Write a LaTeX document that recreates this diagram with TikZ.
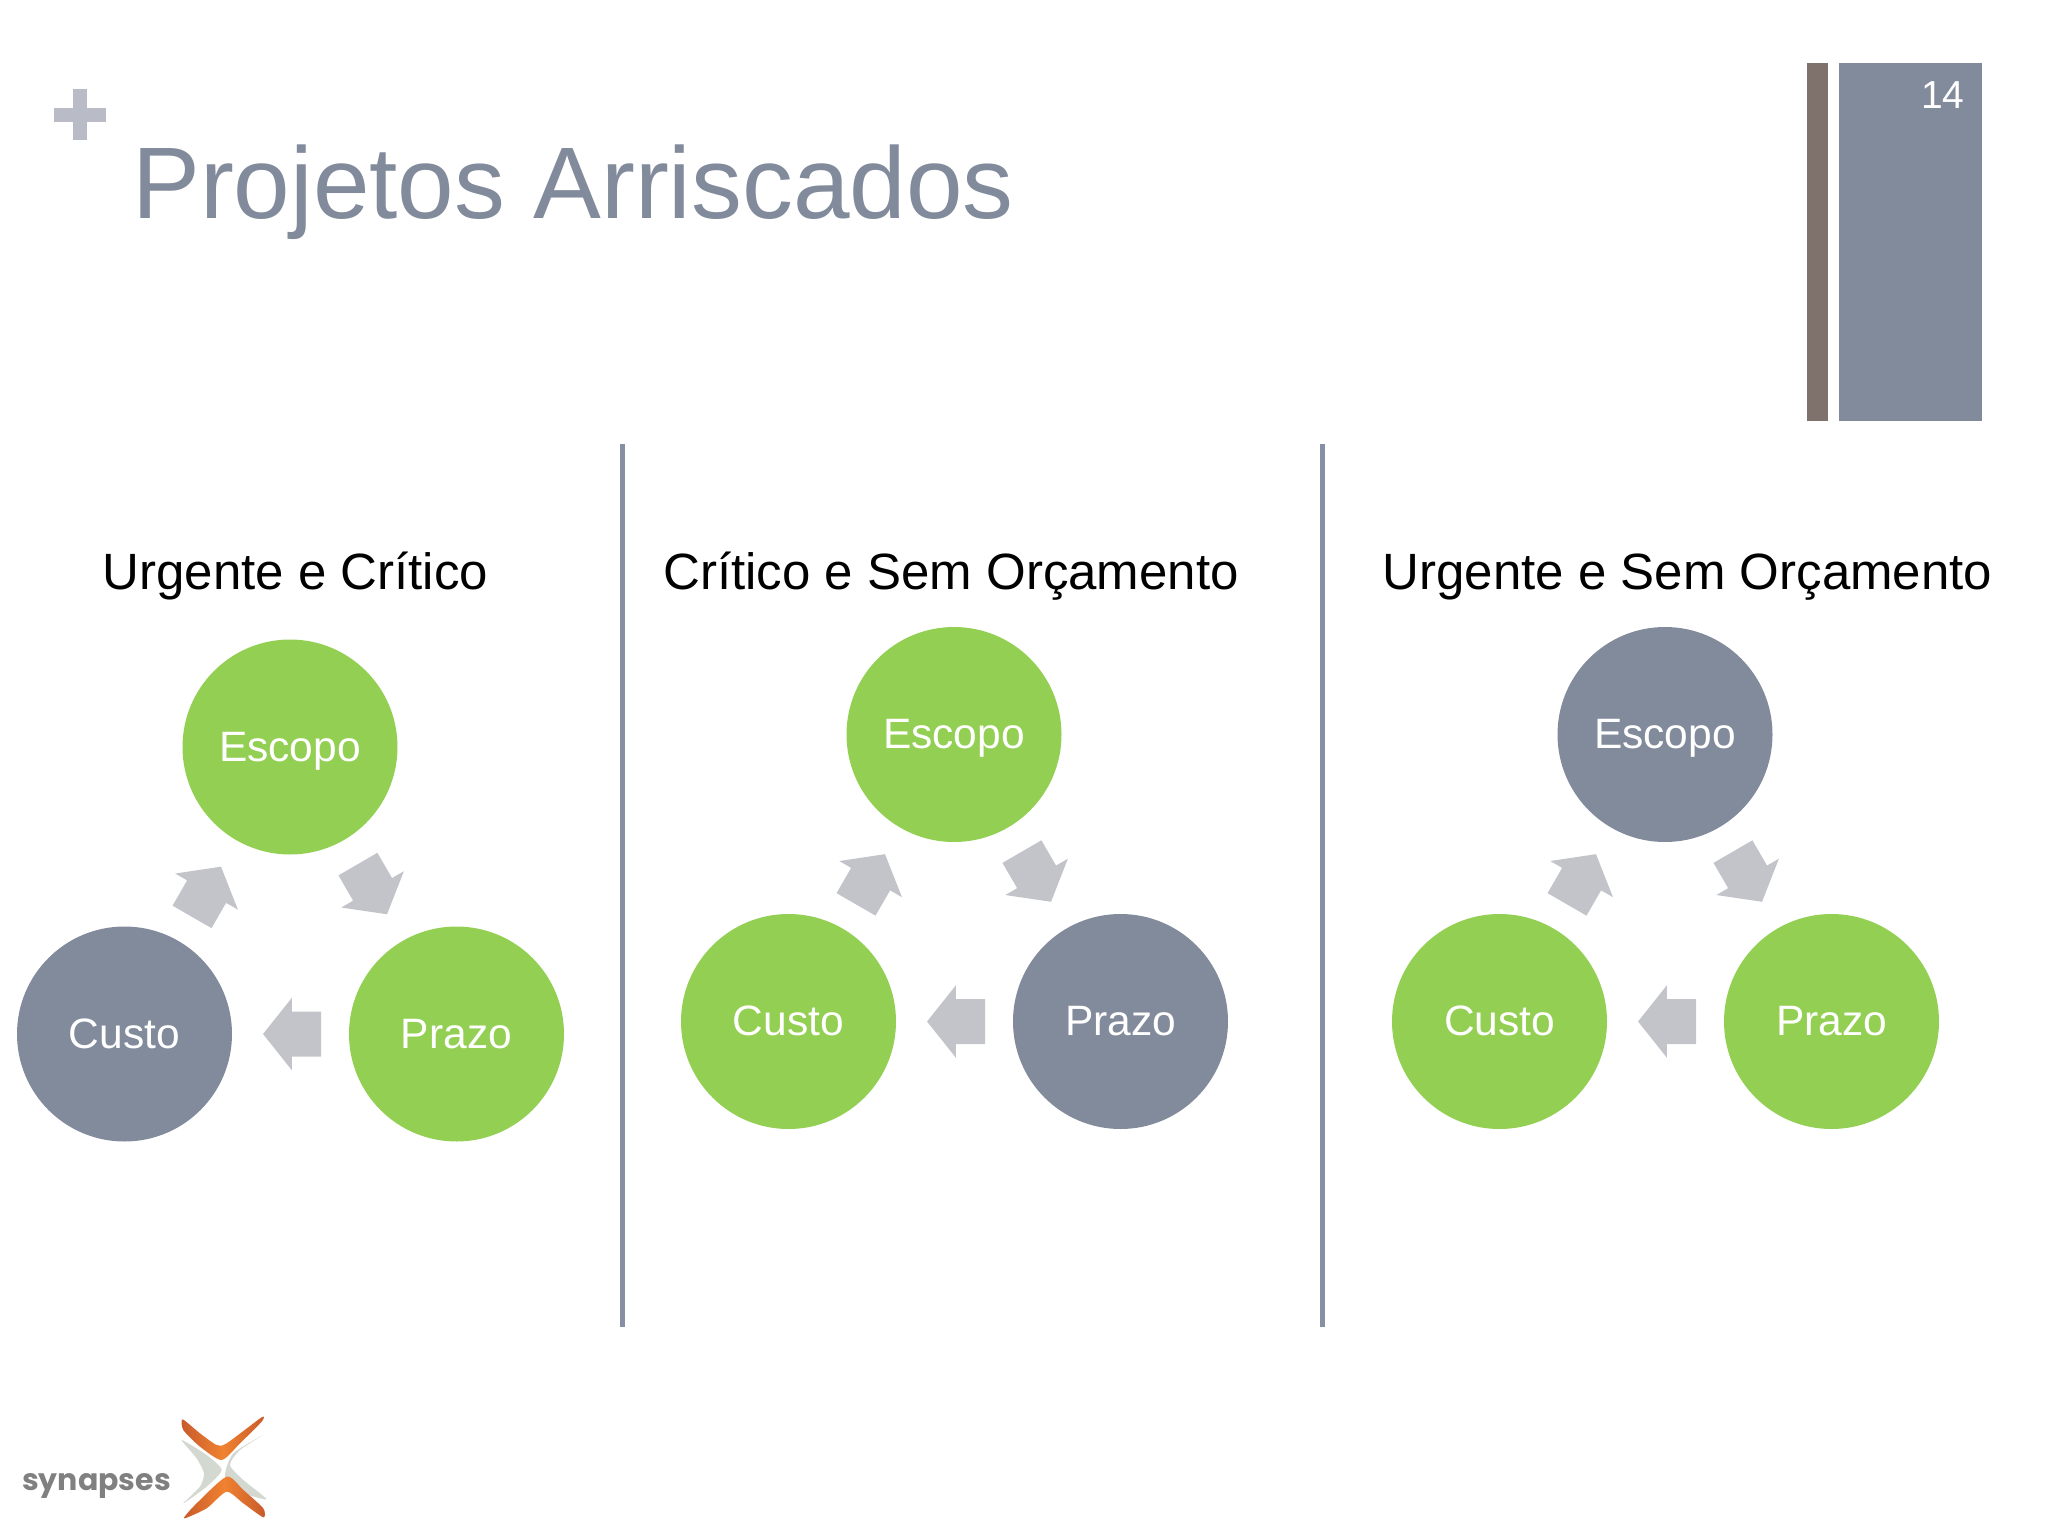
\documentclass[tikz,border=0pt]{standalone}
\usepackage{fontspec}
\setmainfont{Liberation Sans}
\newfontfamily\logofont{Poppins}
\usetikzlibrary{shapes.arrows}
\definecolor{leaf}{HTML}{93CF52}
\definecolor{slate}{HTML}{828B9B}
\definecolor{ash}{HTML}{C2C4CA}
\definecolor{bark}{HTML}{7F716B}
\definecolor{rule}{HTML}{868FA3}
\definecolor{plusgray}{HTML}{B9BCC6}
\definecolor{flame}{HTML}{F08230}
\definecolor{flamedark}{HTML}{C85A2C}
\definecolor{mist}{HTML}{D3D8D0}
\tikzset{>=stealth}
\tikzset{
  disc/.style={circle, inner sep=0pt, minimum size=215pt, text=white, text height=28.5pt, text depth=0pt, font=\fontsize{42.5}{42.5}\selectfont},
  leafdisc/.style={disc, fill=leaf},
  slatedisc/.style={disc, fill=slate},
  flow/.style={pos=0.41, single arrow, sloped, allow upside down, fill=ash, inner xsep=0pt, inner ysep=22.3pt, minimum width=72pt, minimum height=58pt, single arrow head extend=13.7pt, single arrow tip angle=103},
  heading/.style={anchor=base, inner sep=0pt, font=\fontsize{51}{51}\selectfont},
  logoarm/.style={left color=flamedark, right color=flamedark, middle color=flame},
}

\begin{document}
\begin{tikzpicture}[x=1pt, y=-1pt]
    \useasboundingbox (0,0) rectangle (2048,1536);
    % header
    \fill[plusgray] (73.3,89) rectangle (86.7,140.3);
    \fill[plusgray] (54,108) rectangle (105.7,121.7);
    \node[anchor=base west, inner sep=0pt, text=slate, font=\fontsize{101.7}{102}\selectfont] (title) at (132,218) {Projetos Arriscados};
    \fill[bark] (1807.3,62.7) rectangle (1827.7,421);
    \fill[slate] (1838.7,62.7) rectangle (1982.3,421);
    \node[text=white, inner sep=0pt, font=\fontsize{39}{39}\selectfont] (pagenum) at (1942.7,95.5) {14};
    % dividers
    \fill[rule] (619.5,444) rectangle (624.5,1327);
    \fill[rule] (1320,444) rectangle (1325,1327);
    % first panel
    \node[heading] (headA) at (295.5,589) {Urgente e Crítico};
    \node[leafdisc] (escopoA) at (290,747) {Escopo};
    \node[leafdisc] (prazoA) at (456.5,1034) {Prazo};
    \node[slatedisc] (custoA) at (124.5,1034) {Custo};
    \path (escopoA) -- node[flow] (flowAa) {} (prazoA);
    \path (prazoA) -- node[flow] (flowAb) {} (custoA);
    \path (custoA) -- node[flow] (flowAc) {} (escopoA);
    % second panel
    \node[heading] (headB) at (951,589) {Crítico e Sem Orçamento};
    \node[leafdisc] (escopoB) at (954,734.5) {Escopo};
    \node[slatedisc] (prazoB) at (1120.5,1021.5) {Prazo};
    \node[leafdisc] (custoB) at (788.5,1021.5) {Custo};
    \path (escopoB) -- node[flow] (flowBa) {} (prazoB);
    \path (prazoB) -- node[flow] (flowBb) {} (custoB);
    \path (custoB) -- node[flow] (flowBc) {} (escopoB);
    % third panel
    \node[heading] (headC) at (1687.5,589) {Urgente e Sem Orçamento};
    \node[slatedisc] (escopoC) at (1665,734.5) {Escopo};
    \node[leafdisc] (prazoC) at (1831.5,1021.5) {Prazo};
    \node[leafdisc] (custoC) at (1499.5,1021.5) {Custo};
    \path (escopoC) -- node[flow] (flowCa) {} (prazoC);
    \path (prazoC) -- node[flow] (flowCb) {} (custoC);
    \path (custoC) -- node[flow] (flowCc) {} (escopoC);
    % logo
    \node[anchor=base west, inner sep=0pt, text=gray, font=\logofont\bfseries\fontsize{30}{30}\selectfont] (logotext) at (22,1490) {synapses};
    \begin{scope}[shift={(0,1380)}, x=0.3333pt, y=-0.3333pt]
        \fill[mist] plot[smooth cycle, tension=0.4] coordinates {(545,180) (620,225) (665,270) (620,320) (550,370) (600,320) (612,280) (590,235)};
        \fill[mist] plot[smooth cycle, tension=0.4] coordinates {(790,165) (720,210) (690,255) (730,300) (800,358) (720,335) (675,290) (700,220)};
        \shade[logoarm] plot[smooth cycle, tension=0.4] coordinates {(548,118) (600,160) (650,195) (680,190) (785,112) (785,125) (720,190) (665,240) (600,200) (550,150)};
        \shade[logoarm] plot[smooth cycle, tension=0.4] coordinates {(552,415) (590,370) (680,290) (730,330) (790,385) (790,412) (730,370) (680,335) (620,385)};
    \end{scope}
\end{tikzpicture}
\end{document}
